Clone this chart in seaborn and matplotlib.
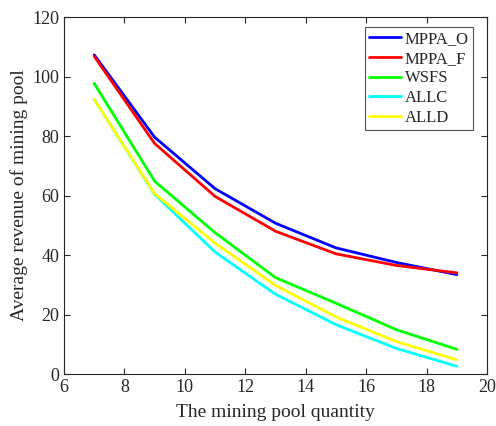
import matplotlib
matplotlib.use("Agg")
import matplotlib.pyplot as plt
import seaborn as sns
import pandas as pd

x = [7, 9, 11, 13, 15, 17, 19]
mppa_o = [107.3, 79.6, 62.3, 50.7, 42.4, 37.5, 33.4]
mppa_f = [106.8, 77.5, 59.7, 48.0, 40.4, 36.5, 34.0]
wsfs = [97.7, 64.8, 47.5, 32.4, 23.8, 14.9, 8.3]
allc = [92.3, 60.4, 41.0, 26.8, 16.6, 8.6, 2.6]
alld = [92.3, 60.6, 44.0, 29.8, 19.2, 10.9, 4.8]
names = ["MPPA_O", "MPPA_F", "WSFS", "ALLC", "ALLD"]
colors = ["#0000ff", "#ff0000", "#00ff00", "#00ffff", "#ffff00"]

rows = []
for n, vals in zip(names, [mppa_o, mppa_f, wsfs, allc, alld]):
    for xi, v in zip(x, vals):
        rows.append({"x": xi, "y": v, "series": n})
df = pd.DataFrame(rows)

sns.set_style("ticks")
plt.rcParams["font.family"] = ["Liberation Serif", "DejaVu Serif"]

fig = plt.figure(figsize=(4.96, 4.26), dpi=100)
ax = fig.add_axes([0.129, 0.122, 0.853, 0.838])
sns.lineplot(data=df, x="x", y="y", hue="series", palette=colors, hue_order=names,
             linewidth=2, ax=ax)
ax.set_xlim(6, 20)
ax.set_ylim(0, 120)
ax.set_xticks(range(6, 21, 2))
ax.set_yticks(range(0, 121, 20))
ax.tick_params(direction="in", top=True, right=True, labelsize=13, length=4, width=0.8)
for s in ax.spines.values():
    s.set_linewidth(0.8)
    s.set_color("#262626")
ax.set_xlabel("The mining pool quantity", fontsize=14, labelpad=6)
ax.set_ylabel("Average revenue of mining pool", fontsize=14, labelpad=3)
leg = ax.legend(loc="upper right", fontsize=12, frameon=True, fancybox=False,
                edgecolor="#262626", handlelength=1.9, borderpad=0.25, labelspacing=0.22,
                handletextpad=0.25, bbox_to_anchor=(473 / 496, 1 - 27 / 426),
                bbox_transform=fig.transFigure, borderaxespad=0)
leg.get_frame().set_linewidth(0.8)
fig.savefig("out.png", dpi=100)
